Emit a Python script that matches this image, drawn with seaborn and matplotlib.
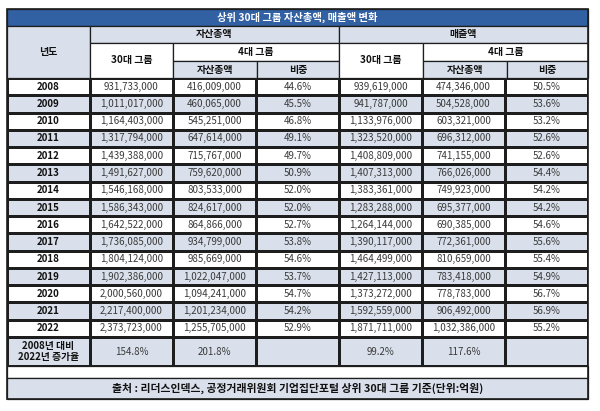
import numpy as np
import matplotlib
matplotlib.use('Agg')
import matplotlib.pyplot as plt
from matplotlib.colors import ListedColormap
from matplotlib.patches import Rectangle
import seaborn as sns

sns.set_theme(style='white')
plt.rcParams['font.family'] = ['Noto Sans CJK KR', 'DejaVu Sans']

# data (억원 / %)
years = [2008, 2009, 2010, 2011, 2012, 2013, 2014, 2015, 2016, 2017, 2018, 2019, 2020, 2021, 2022]
assets_top30 = [931733000, 1011017000, 1164403000, 1317794000, 1439388000, 1491627000, 1546168000,
                1586343000, 1642522000, 1736085000, 1804124000, 1902386000, 2000560000, 2217400000, 2373723000]
assets_top4 = [416009000, 460065000, 545251000, 647614000, 715767000, 759620000, 803533000,
               824617000, 864866000, 934799000, 985669000, 1022047000, 1094241000, 1201234000, 1255705000]
assets_share = [44.6, 45.5, 46.8, 49.1, 49.7, 50.9, 52.0, 52.0, 52.7, 53.8, 54.6, 53.7, 54.7, 54.2, 52.9]
sales_top30 = [939619000, 941787000, 1133976000, 1323520000, 1408809000, 1407313000, 1383361000,
               1283288000, 1264144000, 1390117000, 1464499000, 1427113000, 1373272000, 1592559000, 1871711000]
sales_top4 = [474346000, 504528000, 603321000, 696312000, 741155000, 766026000, 749923000,
              695377000, 690385000, 772361000, 810659000, 783418000, 778783000, 906492000, 1032386000]
sales_share = [50.5, 53.6, 53.2, 52.6, 52.6, 54.4, 54.2, 54.2, 54.6, 55.6, 55.4, 54.9, 56.7, 56.9, 55.2]
growth = [154.8, 201.8, None, 99.2, 117.6, None]

title = '상위 30대 그룹 자산총액, 매출액 변화'
source = '출처 : 리더스인덱스, 공정거래위원회 기업집단포털 상위 30대 그룹 기준(단위:억원)'

W, H = 600, 411
fig = plt.figure(figsize=(6, 4.11), dpi=100)

BLUE = '#3261A3'
GRAY = '#D9E0EB'
LINE = '#1e1e1e'
TXT = '#3a3a3a'

def px_axes(x0, y0, x1, y1):
    return fig.add_axes([x0 / W, 1 - y1 / H, (x1 - x0) / W, (y1 - y0) / H])

# body table via heatmap
L, R = 7, 588
body = px_axes(L, 78, R, 337)
n = len(years)
shade = np.tile((np.arange(n) % 2)[:, None], (1, 7))
labels = np.array([[str(y), f'{a:,}', f'{b:,}', f'{c:.1f}%', f'{d:,}', f'{e:,}', f'{f:.1f}%']
                   for y, a, b, c, d, e, f in zip(years, assets_top30, assets_top4, assets_share,
                                                  sales_top30, sales_top4, sales_share)])
sns.heatmap(shade, ax=body, cmap=ListedColormap(['white', GRAY]), cbar=False,
            annot=labels, fmt='', annot_kws={'fontsize': 7, 'color': TXT},
            linewidths=0.9, linecolor=LINE, xticklabels=False, yticklabels=False)
for t in body.texts:
    if t.get_text() in [str(y) for y in years]:
        t.set_fontweight('bold')
        t.set_color('#111')

# growth row
grow_ax = px_axes(L, 337, R, 366)
grow_labels = np.array([['2008년 대비\n2022년 증가율'] + ['' if g is None else f'{g:.1f}%' for g in growth]])
sns.heatmap(np.ones((1, 7)), ax=grow_ax, cmap=ListedColormap([GRAY]), cbar=False,
            annot=grow_labels, fmt='', annot_kws={'fontsize': 7, 'color': TXT, 'linespacing': 1.2},
            linewidths=0.9, linecolor=LINE, xticklabels=False, yticklabels=False)
grow_ax.texts[0].set_fontweight('bold')
grow_ax.texts[0].set_color('#111')

# overlay for header, title, source
ov = fig.add_axes([0, 0, 1, 1], zorder=5)
ov.set_xlim(0, W)
ov.set_ylim(H, 0)
ov.axis('off')
ov.patch.set_alpha(0)

def cell(x0, y0, x1, y1, text='', fc='white', color='#111', weight='bold', size=7.2):
    ov.add_patch(Rectangle((x0, y0), x1 - x0, y1 - y0, facecolor=fc, edgecolor=LINE, lw=0.9))
    if text:
        ov.text((x0 + x1) / 2, (y0 + y1) / 2, text, ha='center', va='center',
                fontsize=size, fontweight=weight, color=color)

cell(L, 9, R, 26, title, fc=BLUE, color='white', size=7.4)
cell(L, 26, 90, 78, '년도', fc=GRAY)
cell(90, 26, 339, 43, '자산총액', fc=GRAY)
cell(339, 26, 588, 43, '매출액', fc=GRAY)
cell(90, 43, 173, 78, '30대 그룹')
cell(173, 43, 339, 61, '4대 그룹')
cell(173, 61, 257, 78, '자산총액', fc=GRAY)
cell(257, 61, 339, 78, '비중', fc=GRAY)
cell(339, 43, 423, 78, '30대 그룹')
cell(423, 43, 588, 61, '4대 그룹')
cell(423, 61, 507, 78, '자산총액', fc=GRAY)
cell(507, 61, 588, 78, '비중', fc=GRAY)

cell(L, 366, R, 378, '')
cell(L, 378, R, 399, source, fc=GRAY, size=7.8)
ov.add_patch(Rectangle((L, 9), R - L, 399 - 9, facecolor='none', edgecolor=LINE, lw=1.2))

fig.savefig('out.png', dpi=100)
